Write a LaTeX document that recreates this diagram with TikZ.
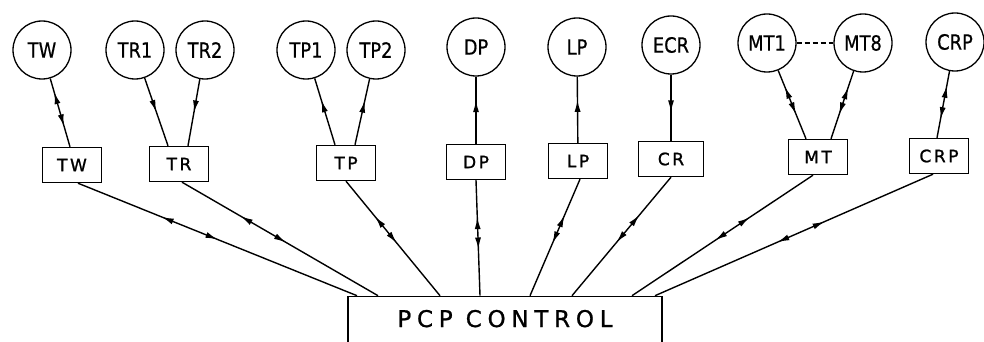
\documentclass[tikz,border=0pt]{standalone}
\usepackage{fontspec}
\usetikzlibrary{arrows.meta,calc,decorations.markings}
\newfontfamily\ringfont[FakeStretch=0.85,FakeBold=0.6]{DejaVu Sans}
\newfontfamily\unitfont[LetterSpace=15,FakeBold=1.2]{DejaVu Sans}
\newfontfamily\ctrlfont[LetterSpace=25,FakeBold=1]{DejaVu Sans}

\tikzset{
  wire/.style={line width=1.4pt},
  ring/.style={circle, draw, line width=1.3pt, minimum size=58pt, inner sep=0pt,
    font=\ringfont\fontsize{21}{21}\selectfont},
  unit/.style={rectangle, draw, line width=1.4pt, minimum width=59pt, minimum height=35pt,
    inner sep=0pt, font=\unitfont\fontsize{17}{17}\selectfont},
  midtip/.tip={Latex[length=12pt,width=6pt]},
  fwd/.style={decoration={markings, mark=at position #1 with {\arrow{midtip}}}, postaction=decorate},
  rev/.style={decoration={markings, mark=at position #1 with {\arrowreversed{midtip}}}, postaction=decorate},
  twoway/.style 2 args={decoration={markings,
      mark=at position #1 with {\arrowreversed{midtip}},
      mark=at position #2 with {\arrow{midtip}}}, postaction=decorate},
}

\begin{document}
\begin{tikzpicture}[x=1pt,y=-1pt]
  \useasboundingbox (0,0) rectangle (984,342);

  % Sub-units (circles)
  \node[ring] (tw)  at (42,50)  {TW};
  \node[ring] (tr1) at (135,50) {TR1};
  \node[ring] (tr2) at (205,50) {TR2};
  \node[ring] (tp1) at (306,50) {TP1};
  \node[ring] (tp2) at (376,50) {TP2};
  \node[ring] (dp)  at (476,47) {DP};
  \node[ring] (lp)  at (577,47) {LP};
  \node[ring] (ecr) at (671,45) {ECR};
  \node[ring] (mt1) at (767,43) {MT1};
  \node[ring] (mt8) at (863,43) {MT8};
  \node[ring] (crp) at (955,42) {CRP};

  % Interface boxes
  \node[unit] (twb)  at (72,165)  {TW};
  \node[unit] (trb)  at (179,164) {TR};
  \node[unit] (tpb)  at (346,163) {TP};
  \node[unit] (dpb)  at (476,162) {DP};
  \node[unit] (lpb)  at (578,161) {LP};
  \node[unit, minimum width=65pt] (crb) at (671,159) {CR};
  \node[unit] (mtb)  at (818,157) {MT};
  \node[unit] (crpb) at (939,156) {CRP};

  % Control unit
  \node[draw, line width=1.6pt, minimum width=314pt, minimum height=53pt, inner sep=0pt,
    text height=17pt, text depth=9pt, font=\ctrlfont\fontsize{23}{23}\selectfont]
    (pcp) at (505,323) {PCP CONTROL};

  \coordinate (p1) at ($(pcp.north)+(-148,0)$);
  \coordinate (p2) at ($(pcp.north)+(-127,0)$);
  \coordinate (p3) at ($(pcp.north)+(-65,0)$);
  \coordinate (p4) at ($(pcp.north)+(-25,0)$);
  \coordinate (p5) at ($(pcp.north)+(25,0)$);
  \coordinate (p6) at ($(pcp.north)+(67,0)$);
  \coordinate (p7) at ($(pcp.north)+(127,0)$);
  \coordinate (p8) at ($(pcp.north)+(150,0)$);

  % Circles to boxes
  \draw[wire, twoway={0.2}{0.7}] (tw) -- ([xshift=-2pt]twb.north);
  \draw[wire, fwd=0.5] (tr1) -- ([xshift=-11pt]trb.north);
  \draw[wire, fwd=0.5] (tr2) -- ([xshift=9pt]trb.north);
  \draw[wire, rev=0.33] (tp1) -- ([xshift=-11pt]tpb.north);
  \draw[wire, rev=0.33] (tp2) -- ([xshift=9pt]tpb.north);
  \draw[wire, rev=0.35] (dp) -- (dpb);
  \draw[wire, rev=0.35] (lp) -- (lpb);
  \draw[wire, fwd=0.57] (ecr) -- (crb);
  \draw[wire, twoway={0.24}{0.64}] (mt1) -- ([xshift=-12pt]mtb.north);
  \draw[wire, twoway={0.24}{0.64}] (mt8) -- ([xshift=13pt]mtb.north);
  \draw[wire, twoway={0.22}{0.72}] (crp) -- ([xshift=-2pt]crpb.north);
  \draw[wire, dashed, dash pattern=on 5pt off 3pt] (mt1) -- (mt8);

  % Boxes to control
  \draw[wire, twoway={0.30}{0.50}] ([xshift=6pt]twb.south) -- (p1);
  \draw[wire, twoway={0.30}{0.53}] ([xshift=3pt]trb.south) -- (p2);
  \draw[wire, twoway={0.31}{0.54}] (tpb.south) -- (p3);
  \draw[wire, twoway={0.32}{0.60}] (dpb.south) -- (p4);
  \draw[wire, twoway={0.31}{0.55}] ([xshift=2pt]lpb.south) -- (p5);
  \draw[wire, twoway={0.32}{0.55}] (crb.south) -- (p6);
  \draw[wire, twoway={0.35}{0.54}] ([xshift=-5pt]mtb.south) -- (p7);
  \draw[wire, twoway={0.39}{0.56}] ([xshift=-6pt]crpb.south) -- (p8);
\end{tikzpicture}
\end{document}
